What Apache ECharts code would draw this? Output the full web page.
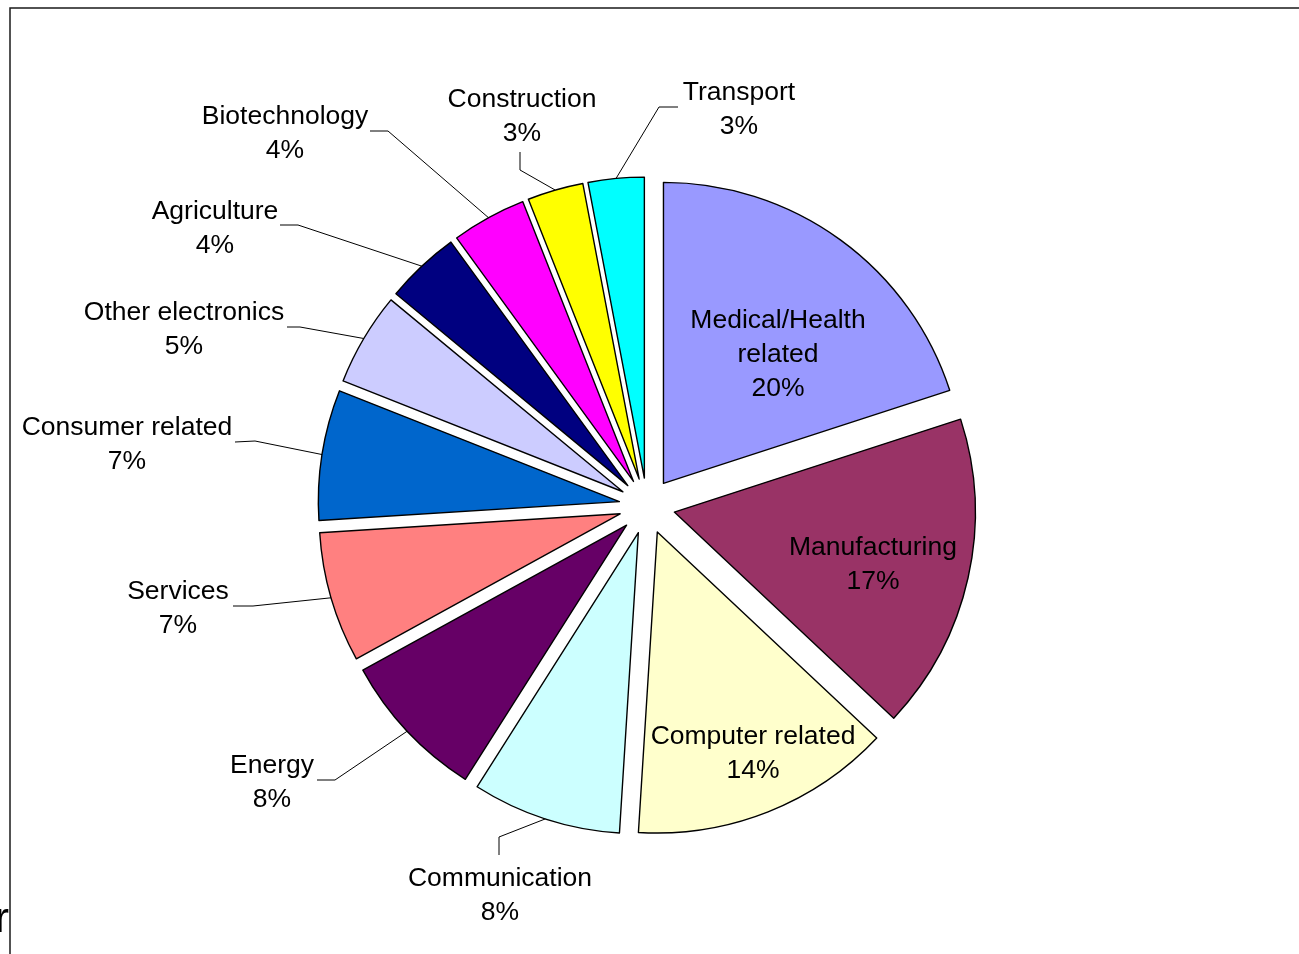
<!DOCTYPE html>
<html>
<head>
<meta charset="utf-8">
<script src="https://cdn.jsdelivr.net/npm/echarts@6/dist/echarts.min.js"></script>
<style>
  html, body { margin: 0; padding: 0; background: #ffffff; }
  #chart { width: 1299px; height: 954px; }
</style>
</head>
<body>
<div id="chart"></div>
<script>
// Sector shares (percent), clockwise from 12 o'clock
const categories = [
  'Medical/Health\nrelated', 'Manufacturing', 'Computer related', 'Communication',
  'Energy', 'Services', 'Consumer related', 'Other electronics',
  'Agriculture', 'Biotechnology', 'Construction', 'Transport'
];
const shares = [20, 17, 14, 8, 8, 7, 7, 5, 4, 4, 3, 3];
const sliceColors = [
  '#9999FF', '#993366', '#FFFFCC', '#CCFFFF',
  '#660066', '#FF8080', '#0066CC', '#CCCCFF',
  '#000080', '#FF00FF', '#FFFF00', '#00FFFF'
];

// Label block centres; outside labels also get a leader bend and end point
const labelPlacement = [
  { at: [778, 355] },
  { at: [873, 565] },
  { at: [753, 754] },
  { at: [500, 896], bend: [499, 837], end: [499, 855] },
  { at: [272, 783], bend: [335, 780], end: [317, 780] },
  { at: [178, 609], bend: [253, 606], end: [233, 606] },
  { at: [127, 445], bend: [255, 441], end: [235, 442] },
  { at: [184, 330], bend: [300, 327], end: [287, 327] },
  { at: [215, 229], bend: [298, 225], end: [280, 225] },
  { at: [285, 134], bend: [388, 131], end: [370, 131] },
  { at: [522, 117], bend: [520, 170], end: [520, 152] },
  { at: [739, 110], bend: [659, 107], end: [678, 107] }
];

const FONT = "'Liberation Sans', Arial, Helvetica, sans-serif";
const PIE_CENTER = [647, 506];
const PIE_RADIUS = 301;
const EXPLODE = 28;

const pieData = categories.map((name, i) => ({
  name: name,
  value: shares[i],
  selected: true,
  itemStyle: { color: sliceColors[i] }
}));

// Mid-angle of every sector (degrees, counter-clockwise from 3 o'clock),
// going clockwise from 12 o'clock as the pie does
const total = shares.reduce((a, b) => a + b, 0);
const midAngles = [];
let cursor = 90;
shares.forEach(v => {
  const sweep = v / total * 360;
  midAngles.push(cursor - sweep / 2);
  cursor -= sweep;
});

const labelGraphics = [];
categories.forEach((name, i) => {
  const place = labelPlacement[i];
  if (place.bend) {
    const a = midAngles[i] * Math.PI / 180;
    const r = PIE_RADIUS + EXPLODE;
    const anchor = [PIE_CENTER[0] + r * Math.cos(a), PIE_CENTER[1] - r * Math.sin(a)];
    labelGraphics.push({
      type: 'polyline',
      z: 10,
      silent: true,
      shape: { points: [anchor, place.bend, place.end] },
      style: { stroke: '#000000', lineWidth: 1, fill: null }
    });
  }
  labelGraphics.push({
    type: 'text',
    z: 11,
    silent: true,
    x: place.at[0],
    y: place.at[1],
    style: {
      text: name + '\n' + shares[i] + '%',
      font: '26.5px ' + FONT,
      lineHeight: 34,
      fill: '#000000',
      align: 'center',
      verticalAlign: 'middle'
    }
  });
});

const chart = echarts.init(document.getElementById('chart'), null, { renderer: 'canvas' });

chart.setOption({
  animation: false,
  backgroundColor: '#ffffff',
  graphic: [
    {
      type: 'polyline',
      silent: true,
      shape: { points: [[10, 954], [10, 8], [1299, 8]] },
      style: { stroke: '#1a1a1a', lineWidth: 1.5, fill: null }
    },
    {
      type: 'text',
      silent: true,
      x: -5,
      y: 941,
      style: { text: 'r', font: '42px ' + FONT, fill: '#000000', align: 'left', verticalAlign: 'bottom' }
    }
  ].concat(labelGraphics),
  series: [{
    type: 'pie',
    center: PIE_CENTER,
    radius: [0, PIE_RADIUS],
    startAngle: 90,
    clockwise: true,
    selectedMode: 'multiple',
    selectedOffset: EXPLODE,
    avoidLabelOverlap: false,
    itemStyle: { borderColor: '#000000', borderWidth: 1.4 },
    emphasis: { disabled: true },
    select: { itemStyle: { borderColor: '#000000', borderWidth: 1.4 } },
    label: { show: false },
    labelLine: { show: false },
    data: pieData
  }]
});
</script>
</body>
</html>
